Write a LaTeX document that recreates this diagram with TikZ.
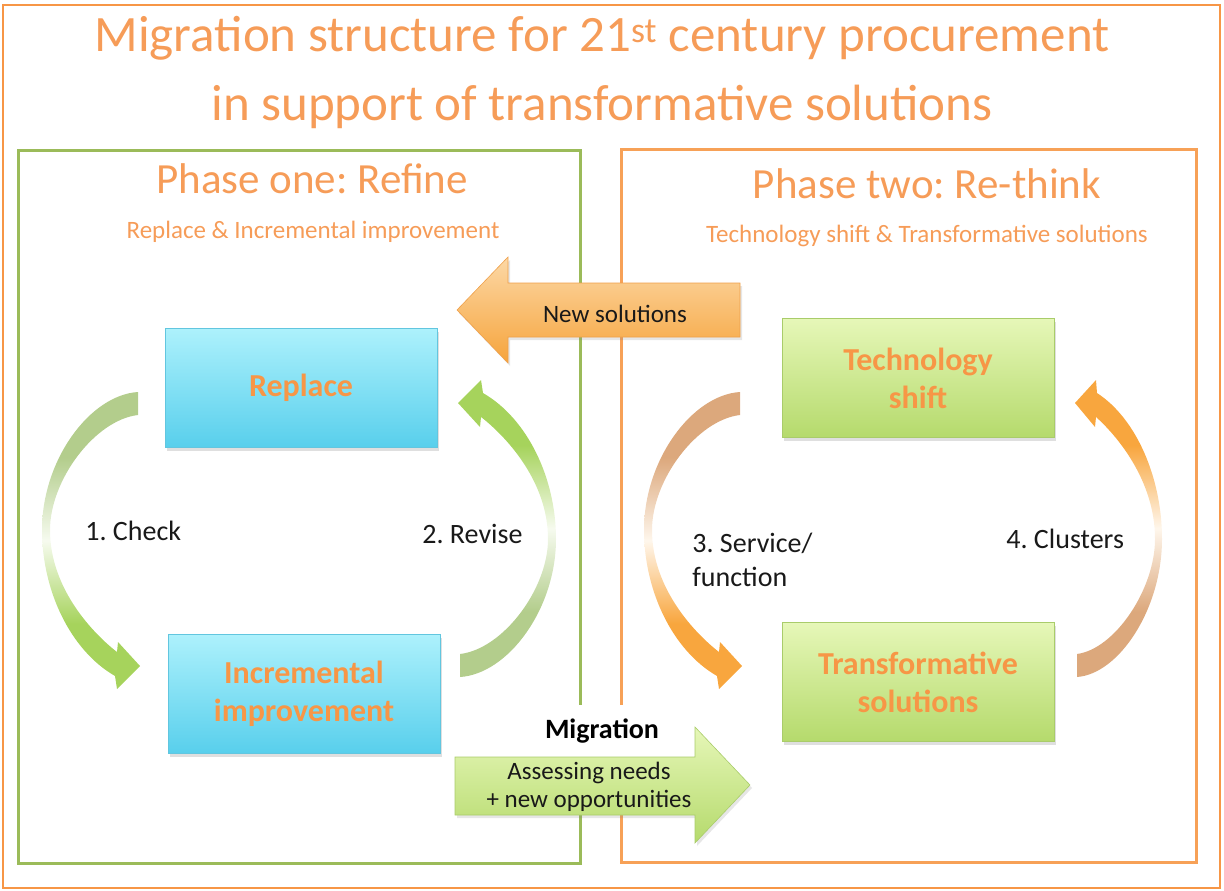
\documentclass[tikz,border=0pt]{standalone}
\usepackage{fontspec}
\setmainfont{Carlito}
\usepackage{tikz}
\usetikzlibrary{shadows}
\frenchspacing

\definecolor{frameorange}{HTML}{F79646}
\definecolor{phasegreen}{HTML}{9BBB59}
\definecolor{phaseorange}{HTML}{F7A157}
\definecolor{titleorange}{HTML}{F69C58}
\definecolor{boxtext}{HTML}{F79646}
\definecolor{cyantop}{HTML}{ADF1FC}
\definecolor{cyanbot}{HTML}{58CFEC}
\definecolor{cyanline}{HTML}{62C6DF}
\definecolor{limetop}{HTML}{E6F7B8}
\definecolor{limebot}{HTML}{B5DA6C}
\definecolor{limeline}{HTML}{A9CC6A}
\definecolor{peachtop}{HTML}{FCD8A6}
\definecolor{peachbot}{HTML}{F6A43C}
\definecolor{peachline}{HTML}{EFA04A}
\definecolor{greenhead}{HTML}{A6D35C}
\definecolor{greentail}{HTML}{B3CD8C}
\definecolor{orangehead}{HTML}{F8A63E}
\definecolor{orangetail}{HTML}{DCA87C}
\colorlet{greenfade}{greenhead!10}
\colorlet{orangefade}{orangehead!10}

\pgfdeclareverticalshading{checkfade}{100bp}{color(0bp)=(greenhead); color(36bp)=(greenhead); color(50bp)=(greenfade); color(64bp)=(greentail); color(100bp)=(greentail)}
\pgfdeclareverticalshading{revisefade}{100bp}{color(0bp)=(greentail); color(36bp)=(greentail); color(50bp)=(greenfade); color(64bp)=(greenhead); color(100bp)=(greenhead)}
\pgfdeclareverticalshading{servicefade}{100bp}{color(0bp)=(orangehead); color(36bp)=(orangehead); color(50bp)=(orangefade); color(64bp)=(orangetail); color(100bp)=(orangetail)}
\pgfdeclareverticalshading{clusterfade}{100bp}{color(0bp)=(orangetail); color(36bp)=(orangetail); color(50bp)=(orangefade); color(64bp)=(orangehead); color(100bp)=(orangehead)}

\begin{document}
\begin{tikzpicture}[x=1pt, y=-1pt, thick,
  titletext/.style={text=titleorange, font=\fontsize{51}{60}\selectfont, inner sep=0pt, anchor=base},
  phasetitle/.style={text=titleorange, font=\fontsize{43}{50}\selectfont, inner sep=0pt, anchor=base},
  phasesub/.style={text=titleorange, font=\fontsize{25}{30}\selectfont, inner sep=0pt, anchor=base},
  stage/.style={minimum width=272pt, minimum height=119pt, inner sep=0pt, align=center,
    text=boxtext, font=\fontsize{32}{38}\selectfont\bfseries,
    drop shadow={shadow xshift=2pt, shadow yshift=-3pt, opacity=0.25}},
  refinebox/.style={stage, top color=cyantop, bottom color=cyanbot, draw=cyanline, line width=0.8pt},
  rethinkbox/.style={stage, top color=limetop, bottom color=limebot, draw=limeline, line width=0.8pt},
  steplabel/.style={text=black!90, font=\fontsize{28}{34}\selectfont, inner sep=0pt},
  arrowtext/.style={text=black!90, font=\fontsize{25}{28}\selectfont, inner sep=0pt}]
\useasboundingbox (0,0) rectangle (1224,891);
%%%%% Frames %%%%%
\draw[frameorange, line width=2pt] (3,5) rectangle (1220,888);
\draw[phasegreen, line width=3pt] (18,150) rectangle (580,863);
\draw[phaseorange, line width=3pt] (621,149) rectangle (1196,862);
%%%%% Title %%%%%
\node[titletext] (title) at (602,52) {Migration structure for 21\textsuperscript{st} century procurement};
\node[titletext] (subtitle) at (602,120) {in support of transformative solutions};
\node[phasetitle] (onehead) at (312,193) {Phase one: Refine};
\node[phasesub] (onesub) at (313,238) {Replace \& Incremental improvement};
\node[phasetitle] (twohead) at (927,198) {Phase two: Re-think};
\node[phasesub] (twosub) at (927,242) {Technology shift \& Transformative solutions};
%%%%% Migration label %%%%%
\node[fill=white, minimum width=165pt, minimum height=52pt, inner sep=0pt,
  font=\fontsize{28}{34}\selectfont\bfseries] (migration) at (602,731) {Migration};
%%%%% Block arrows %%%%%
\shade[top color=peachtop, bottom color=peachbot, draw=peachline, line width=0.6pt,
  drop shadow={shadow xshift=2pt, shadow yshift=-3pt, opacity=0.2}]
  (740,283) -- (508,283) -- (508,257) -- (457,310) -- (508,363) -- (508,337) -- (740,337) -- cycle;
\shade[top color=limetop, bottom color=limebot, draw=limeline, line width=0.6pt,
  drop shadow={shadow xshift=2pt, shadow yshift=-3pt, opacity=0.2}]
  (455,757) -- (695,757) -- (695,727) -- (750,785) -- (695,843) -- (695,815) -- (455,815) -- cycle;
\node[arrowtext, anchor=base] (newsol) at (615,322) {New solutions};
\node[arrowtext, align=center] (needs) at (589,787) {Assessing needs\\+ new opportunities};
%%%%% Boxes %%%%%
\node[refinebox] (replace) at (301,388) {Replace};
\node[refinebox] (incremental) at (304,694) {Incremental\\improvement};
\node[rethinkbox] (techshift) at (918,378) {Technology\\shift};
\node[rethinkbox] (transform) at (918,682) {Transformative\\solutions};
%%%%% Cycle arrows %%%%%
% 1. Check
\shade[shading=checkfade] (138,392) .. controls (90,395) and (42,460) .. (42,530)
  .. controls (42,590) and (70,650) .. (115,676) -- (117,689) -- (140,666) -- (118,642) -- (117,652)
  .. controls (95,635) and (50,590) .. (50,530) .. controls (50,480) and (95,420) .. (138,415) -- cycle;
% 2. Revise
\shade[shading=revisefade] (460,677) .. controls (508,674) and (556,609) .. (556,539)
  .. controls (556,479) and (528,419) .. (483,393) -- (481,380) -- (458,403) -- (480,427) -- (481,417)
  .. controls (503,434) and (548,479) .. (548,539) .. controls (548,589) and (503,649) .. (460,654) -- cycle;
% 3. Service/function
\shade[shading=servicefade] (740,392) .. controls (692,395) and (644,460) .. (644,530)
  .. controls (644,590) and (672,650) .. (717,676) -- (719,689) -- (742,666) -- (720,642) -- (719,652)
  .. controls (697,635) and (652,590) .. (652,530) .. controls (652,480) and (697,420) .. (740,415) -- cycle;
% 4. Clusters
\shade[shading=clusterfade] (1077,677) .. controls (1119,674) and (1162,609) .. (1162,539)
  .. controls (1162,479) and (1137,419) .. (1097,393) -- (1096,380) -- (1075,403) -- (1095,427) -- (1096,417)
  .. controls (1115,434) and (1155,479) .. (1155,539) .. controls (1155,589) and (1115,649) .. (1077,654) -- cycle;
\node[steplabel, anchor=base west] (check) at (85,540) {1. Check};
\node[steplabel, anchor=base west] (revise) at (422,543) {2. Revise};
\node[steplabel, anchor=west, align=left] (service) at (692,560) {3. Service/\\function};
\node[steplabel, anchor=base west] (clusters) at (1006,548) {4. Clusters};
\end{tikzpicture}
\end{document}
